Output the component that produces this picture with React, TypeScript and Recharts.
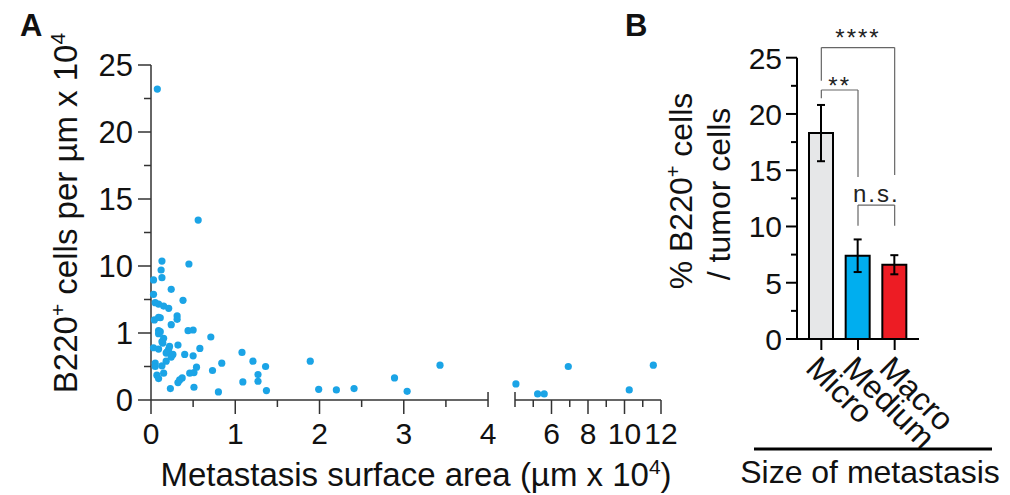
import React from "react";
import {
  ScatterChart,
  Scatter,
  BarChart,
  Bar,
  Cell,
  ErrorBar,
  XAxis,
  YAxis,
  ReferenceLine,
  Label,
} from "recharts";

// Panel A: metastasis surface area (µm x 10^4) vs B220+ cells per µm x 10^4
const areaValues = [
  0.03, 0.03, 0.05, 0.09, 0.15, 0.21, 0.13, 0.12, 0.13, 0.24, 0.38, 0.45, 0.56,
  0.04, 0.09, 0.11, 0.31, 0.31, 0.24, 0.09, 0.11, 0.09, 0.13, 0.14, 0.15, 0.19,
  0.21, 0.22, 0.18, 0.03, 0.09, 0.32, 0.44, 0.5, 0.71, 0.58, 0.5, 0.4, 0.26,
  0.24, 0.18, 0.13, 0.05, 0.05, 0.07, 0.09, 0.15, 0.46, 0.51, 0.54, 0.37, 0.34,
  0.32, 0.23, 0.51, 0.73, 0.84, 0.8, 1.08, 1.21, 1.36, 1.27, 1.27, 1.09, 1.37,
  1.89, 1.99, 2.2, 2.41, 2.89, 3.04, 3.43, 0.075, 4.05, 5.24, 5.6, 6.92, 10.26,
  11.58,
];
const densityValues = [
  8.13, 6.2, 5.07, 4.89, 4.62, 4.31, 10.37, 9.46, 8.43, 6.87, 5.39, 10.15, 13.43,
  2.75, 3.11, 3.05, 3.29, 2.84, 2.12, 1.31, 1.18, 0.99, 0.87, 0.85, 0.92, 0.72,
  0.76, 0.8, 0.7, 0.78, 0.76, 0.82, 1.31, 1.4, 0.94, 0.77, 0.66, 0.68, 0.68,
  0.64, 0.58, 0.51, 0.55, 0.5, 0.37, 0.32, 0.4, 0.4, 0.41, 0.49, 0.33, 0.3,
  0.26, 0.17, 0.19, 0.44, 0.55, 0.12, 0.71, 0.58, 0.5, 0.38, 0.28, 0.27, 0.14,
  0.58, 0.16, 0.15, 0.17, 0.33, 0.13, 0.52, 23.2, 0.24, 0.09, 0.09, 0.5, 0.15,
  0.52,
];

const densityMajorTicks = [0, 1, 10, 15, 20, 25];
const areaLeftMajor = [0, 1, 2, 3, 4];
const areaLeftMinor = [0.5, 1.5, 2.5, 3.5];
const areaRightMajor = [6, 8, 10, 12];
const areaRightMinor = [5, 7, 9, 11];

// Panel B
const sizeCategories = ["Micro", "Medium", "Macro"];
const percentMeans = [18.3, 7.4, 6.6];
const percentErrors = [2.5, 1.45, 0.85];
const barColors = ["#e6e7e8", "#00aeef", "#ed1c24"];
const percentTicks = [0, 5, 10, 15, 20, 25];

const FONT = "'Liberation Sans', Arial, sans-serif";
const DOT = "#1ba4e6";

// broken axes: segments 0-1, 1-10 and 10-25 on y; 0-4 | 4-12 on x
const toDensityAxis = (v: number) =>
  v <= 1 ? v * 5 : v <= 10 ? 5 + ((v - 1) * 5) / 9 : v;
const GAP = 0.32;
const RIGHT_K = 0.2166;
const rightPos = (v: number) => 4 + GAP + (v - 4) * RIGHT_K;
const toAreaAxis = (v: number) => (v <= 4 ? v : rightPos(v));

const scatterData = areaValues.map((a, i) => ({
  x: toAreaAxis(a),
  y: toDensityAxis(densityValues[i]),
}));

const densityTickDefs = [
  ...densityMajorTicks.map((v) => ({ pos: toDensityAxis(v), label: String(v) })),
  ...[2.5, 7.5, 12.5, 17.5, 22.5].map((p) => ({ pos: p, label: "" })),
];

type AreaTickDef = { pos: number; label: string; kind: "major" | "minor" | "break" };
const areaTickDefs: AreaTickDef[] = [
  ...areaLeftMajor.map((v) => ({
    pos: v,
    label: String(v),
    kind: (v === 4 ? "break" : "major") as AreaTickDef["kind"],
  })),
  ...areaLeftMinor.map((v) => ({ pos: v, label: "", kind: "minor" as const })),
  { pos: rightPos(4), label: "", kind: "break" },
  ...areaRightMajor.map((v) => ({ pos: rightPos(v), label: String(v), kind: "major" as const })),
  ...areaRightMinor.map((v) => ({ pos: rightPos(v), label: "", kind: "minor" as const })),
];

const barData = sizeCategories.map((name, i) => ({
  name,
  value: percentMeans[i],
  err: percentErrors[i],
}));

const brackets = [
  { from: "Micro", to: "Macro", top: 25.9, left: 22.96, right: 14.58, text: "****", offset: 2 },
  { from: "Micro", to: "Medium", top: 22.13, left: 21.4, right: 14.4, text: "**", offset: -4 },
  { from: "Medium", to: "Macro", top: 11.9, left: 10.07, right: 10.07, text: "n.s.", offset: 3 },
];

function DensityTick(props: any) {
  const { x, y, payload } = props;
  const def = densityTickDefs.find((d) => Math.abs(d.pos - payload.value) < 1e-6);
  const major = def && def.label !== "";
  return (
    <g>
      <line x1={x - (major ? 13 : 7)} x2={x} y1={y} y2={y} stroke="#333" strokeWidth={1.5} />
      {major && (
        <text x={x - 18} y={y + 11} textAnchor="end" fontSize={31} fontFamily={FONT} fill="#111">
          {def!.label}
        </text>
      )}
    </g>
  );
}

function AreaTick(props: any) {
  const { x, y, payload } = props;
  const def = areaTickDefs.find((d) => Math.abs(d.pos - payload.value) < 1e-6);
  if (!def) return <g />;
  const y1 = def.kind === "break" ? y - 8 : y;
  const y2 = def.kind === "major" ? y + 14 : y + 7;
  return (
    <g>
      <line x1={x} x2={x} y1={y1} y2={y2} stroke="#333" strokeWidth={1.5} />
      {def.label && (
        <text x={x} y={y + 44} textAnchor="middle" fontSize={30} fontFamily={FONT} fill="#111">
          {def.label}
        </text>
      )}
    </g>
  );
}

function PercentTick(props: any) {
  const { x, y, payload } = props;
  const major = percentTicks.includes(payload.value);
  return (
    <g>
      <line x1={x - (major ? 11 : 6)} x2={x} y1={y} y2={y} stroke="#000" strokeWidth={2} />
      {major && (
        <text x={x - 15} y={y + 11} textAnchor="end" fontSize={30} fontFamily={FONT} fill="#111">
          {payload.value}
        </text>
      )}
    </g>
  );
}

function SizeTick(props: any) {
  const { x, y, payload } = props;
  return (
    <g>
      <line x1={x} x2={x} y1={y} y2={y + 11} stroke="#000" strokeWidth={2} />
      <text
        transform={`translate(${x - 17},${y + 31}) rotate(45)`}
        textAnchor="start"
        fontSize={32}
        fontFamily={FONT}
        fill="#111"
      >
        {payload.value}
      </text>
    </g>
  );
}

export default function App() {
  return (
    <div
      style={{
        position: "absolute",
        left: 0,
        top: 0,
        width: 1010,
        height: 495,
        background: "#fff",
        fontFamily: FONT,
      }}
    >
      <div style={{ position: "absolute", left: 0, top: 0 }}>
        <ScatterChart
          width={700}
          height={495}
          margin={{ top: 65, right: 39, bottom: 94, left: 150 }}
        >
          <XAxis
            type="number"
            dataKey="x"
            domain={[0, rightPos(12)]}
            ticks={areaTickDefs.map((d) => d.pos)}
            interval={0}
            height={1}
            tickSize={0}
            tickMargin={0}
            tickLine={false}
            axisLine={false}
            tick={(p: any) => <AreaTick {...p} />}
          />
          <YAxis
            type="number"
            dataKey="y"
            domain={[0, 25]}
            ticks={densityTickDefs.map((d) => d.pos)}
            interval={0}
            width={1}
            tickSize={0}
            tickMargin={0}
            tickLine={false}
            axisLine={{ stroke: "#333", strokeWidth: 1.5 }}
            tick={(p: any) => <DensityTick {...p} />}
          />
          <ReferenceLine
            segment={[{ x: 0, y: 0 }, { x: 4, y: 0 }]}
            stroke="#333"
            strokeWidth={1.5}
            ifOverflow="visible"
          />
          <ReferenceLine
            segment={[{ x: rightPos(4), y: 0 }, { x: rightPos(12), y: 0 }]}
            stroke="#333"
            strokeWidth={1.5}
            ifOverflow="visible"
          />
          <Scatter
            data={scatterData}
            isAnimationActive={false}
            fill={DOT}
            shape={(p: any) => <circle cx={p.cx} cy={p.cy} r={3.6} fill={DOT} />}
          />
        </ScatterChart>
      </div>

      <div style={{ position: "absolute", left: 700, top: 0 }}>
        <BarChart
          width={310}
          height={495}
          data={barData}
          margin={{ top: 57.7, right: 91, bottom: 155, left: 96 }}
        >
          <XAxis
            dataKey="name"
            type="category"
            padding={{ left: 6, right: 6 }}
            height={1}
            tickSize={0}
            tickMargin={0}
            tickLine={false}
            interval={0}
            axisLine={{ stroke: "#000", strokeWidth: 2 }}
            tick={(p: any) => <SizeTick {...p} />}
          />
          <YAxis
            type="number"
            domain={[0, 25]}
            ticks={[0, 2.5, 5, 7.5, 10, 12.5, 15, 17.5, 20, 22.5, 25]}
            interval={0}
            width={1}
            tickSize={0}
            tickMargin={0}
            tickLine={false}
            axisLine={{ stroke: "#000", strokeWidth: 2 }}
            tick={(p: any) => <PercentTick {...p} />}
          />
          <Bar dataKey="value" barSize={24} stroke="#000" strokeWidth={2} isAnimationActive={false}>
            {barData.map((d, i) => (
              <Cell key={d.name} fill={barColors[i]} />
            ))}
            <ErrorBar
              dataKey="err"
              direction="y"
              width={4}
              stroke="#000"
              strokeWidth={2}
              isAnimationActive={false}
            />
          </Bar>
          {brackets.map((b) => [
            <ReferenceLine
              key={b.text + "l"}
              segment={[{ x: b.from, y: b.left }, { x: b.from, y: b.top }]}
              stroke="#666"
              strokeWidth={1.2}
              ifOverflow="visible"
            />,
            <ReferenceLine
              key={b.text + "t"}
              segment={[{ x: b.from, y: b.top }, { x: b.to, y: b.top }]}
              stroke="#666"
              strokeWidth={1.2}
              ifOverflow="visible"
              label={
                <Label
                  value={b.text}
                  position="top"
                  offset={b.offset}
                  fontSize={24}
                  fontFamily={FONT}
                  letterSpacing={2}
                  fill="#222"
                />
              }
            />,
            <ReferenceLine
              key={b.text + "r"}
              segment={[{ x: b.to, y: b.top }, { x: b.to, y: b.right }]}
              stroke="#666"
              strokeWidth={1.2}
              ifOverflow="visible"
            />,
          ])}
        </BarChart>
      </div>

      <svg
        width={1010}
        height={495}
        style={{ position: "absolute", left: 0, top: 0, pointerEvents: "none" }}
        fontFamily={FONT}
        fill="#111"
      >
        <text x={20} y={36} fontSize={31} fontWeight="bold">A</text>
        <text x={625} y={36} fontSize={31} fontWeight="bold">B</text>
        <text transform="translate(77,213) rotate(-90)" textAnchor="middle" fontSize={33}>
          B220<tspan dy={-12} fontSize={21}>+</tspan>
          <tspan dy={12}> cells per µm x 10</tspan>
          <tspan dy={-12} fontSize={21}>4</tspan>
        </text>
        <text x={416} y={486} textAnchor="middle" fontSize={33}>
          Metastasis surface area (µm x 10<tspan dy={-12} fontSize={21}>4</tspan>
          <tspan dy={12}>)</tspan>
        </text>
        <text transform="translate(692,191) rotate(-90)" textAnchor="middle" fontSize={32}>
          % B220<tspan dy={-12} fontSize={20}>+</tspan>
          <tspan dy={12}> cells</tspan>
        </text>
        <text transform="translate(730,194) rotate(-90)" textAnchor="middle" fontSize={32}>
          / tumor cells
        </text>
        <line x1={754} x2={992} y1={449} y2={449} stroke="#000" strokeWidth={3} />
        <text x={870} y={483} textAnchor="middle" fontSize={32}>
          Size of metastasis
        </text>
      </svg>
    </div>
  );
}
